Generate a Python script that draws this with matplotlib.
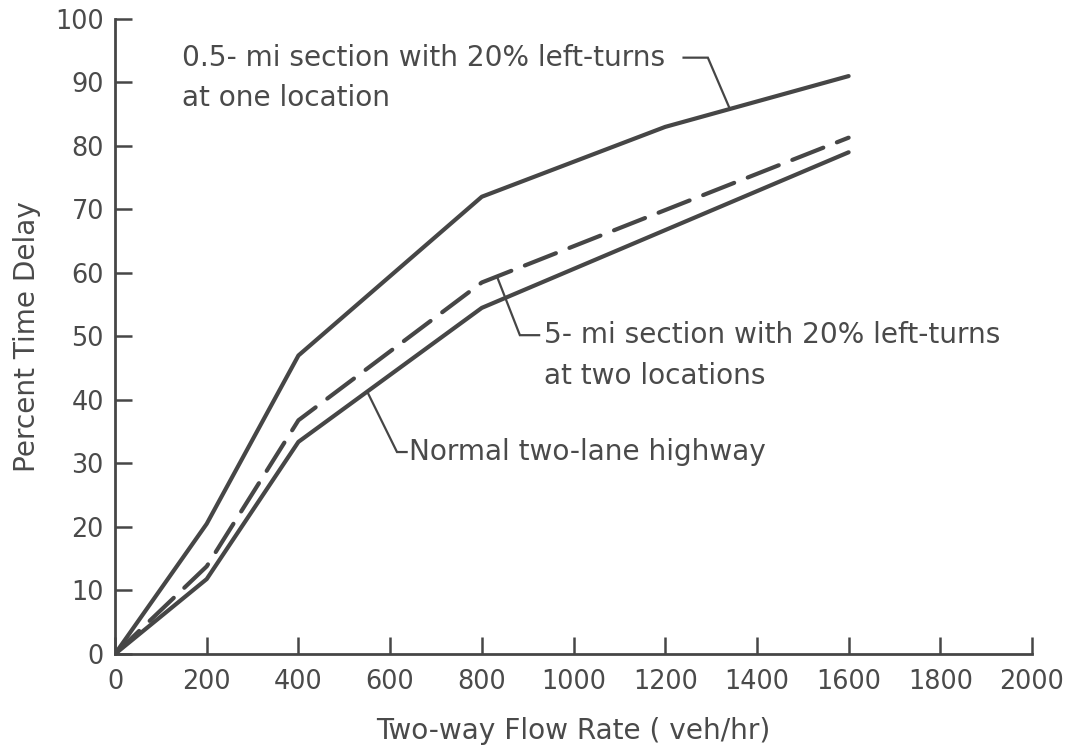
import numpy as np
import matplotlib
matplotlib.use("Agg")
import matplotlib.pyplot as plt

# Two-way flow rate (veh/hr) and percent time delay for each case
flow_half_mile = [0, 200, 400, 800, 1200, 1600]
delay_half_mile = [0, 20.5, 47, 72, 83, 91]

flow_five_mile = [0, 200, 400, 800, 1600]
delay_five_mile = [0, 13.8, 36.8, 58.5, 81.3]

flow_normal = [0, 200, 400, 800, 1600]
delay_normal = [0, 11.8, 33.4, 54.5, 79]

x_ticks = [0, 200, 400, 600, 800, 1000, 1200, 1400, 1600, 1800, 2000]
y_ticks = [0, 10, 20, 30, 40, 50, 60, 70, 80, 90, 100]

ink = "#464646"
text_ink = "#4a4a4a"
plt.rcParams["font.family"] = ["DejaVu Sans"]
tick_fs = 18.4
fs = 20.2

fig = plt.figure(figsize=(10.70, 7.48), dpi=100)
ax = fig.add_axes([0.1075, 0.1257, 0.857, 0.849])

ax.plot(flow_half_mile, delay_half_mile, color=ink, lw=3.0,
        solid_joinstyle="round", solid_capstyle="round")
ax.plot(flow_five_mile, delay_five_mile, color=ink, lw=3.0,
        linestyle=(0, (8, 3.5)), dash_capstyle="round")
ax.plot(flow_normal, delay_normal, color=ink, lw=3.0,
        solid_joinstyle="round", solid_capstyle="round")

ax.set_xlim(0, 2000)
ax.set_ylim(0, 100)
ax.set_xticks(x_ticks)
ax.set_yticks(y_ticks)
ax.spines["top"].set_visible(False)
ax.spines["right"].set_visible(False)
for s in ("left", "bottom"):
    ax.spines[s].set_linewidth(2.0)
    ax.spines[s].set_color(ink)
ax.tick_params(direction="in", length=12, width=1.8, color=ink,
               labelcolor=text_ink, labelsize=tick_fs)
ax.tick_params(axis="x", pad=11)
ax.tick_params(axis="y", pad=8)
ax.set_xlabel("Two-way Flow Rate ( veh/hr)", fontsize=fs, color=text_ink,
              labelpad=16)
ax.set_ylabel("Percent Time Delay", fontsize=fs, color=text_ink, labelpad=10)


def leader(xs, ys):
    ax.plot(xs, ys, color=ink, lw=1.6, solid_joinstyle="miter",
            clip_on=False)


def label(x, y, s):
    ax.text(x, y, s, fontsize=fs, color=text_ink, ha="left", va="center")


# 0.5-mi section label
x_a = 1341
y_a = float(np.interp(x_a, flow_half_mile, delay_half_mile))
leader([x_a, 1293, 1240], [y_a, 93.9, 93.9])
label(145, 93.9, "0.5- mi section with 20% left-turns")
label(145, 87.6, "at one location")

# 5-mi section label
x_b = 833
y_b = float(np.interp(x_b, flow_five_mile, delay_five_mile))
leader([x_b, 883, 925], [y_b, 50.2, 50.2])
label(935, 50.2, "5- mi section with 20% left-turns")
label(935, 43.7, "at two locations")

# Normal highway label
x_c = 550
y_c = float(np.interp(x_c, flow_normal, delay_normal))
leader([x_c, 615, 636], [y_c, 31.8, 31.8])
label(642, 31.8, "Normal two-lane highway")

fig.savefig("out.png", dpi=100)
